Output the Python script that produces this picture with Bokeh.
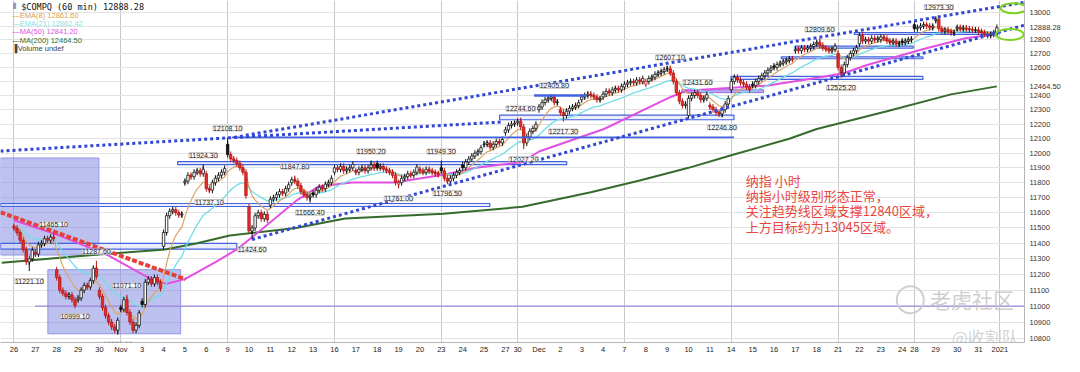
import numpy as np
import pandas as pd
from bokeh.plotting import figure
from bokeh.models import Range1d, FixedTicker, PrintfTickFormatter, Label
from bokeh.embed import file_html
from bokeh.resources import INLINE

# ---------------- data ----------------
day_labels = ["26", "27", "28", "29", "30", "Nov", "3", "4", "5", "6", "9", "10", "11", "12", "13",
              "16", "17", "18", "19", "20", "23", "24", "25", "27", "30", "Dec", "2", "3", "4", "7",
              "8", "9", "10", "11", "14", "15", "16", "17", "18", "21", "22", "23", "24", "28", "29",
              "30", "31", "2021"]
day_bar_counts = [7, 7, 7, 7, 7, 7, 7, 7, 7, 7, 7, 7, 7, 7, 7, 7, 7, 7, 7, 7, 7, 7, 7, 4, 7, 7, 7, 7,
                  7, 7, 7, 7, 7, 7, 7, 7, 7, 7, 7, 7, 7, 7, 4, 7, 7, 7, 7, 0]
week_start_days = [0, 5, 10, 15, 20, 24, 29, 34, 39, 43, 47]

day_opens = [11510, 11340, 11230, 11040, 11100, 10990, 11030, 11380, 11800, 11860,
             12060, 11640, 11650, 11800, 11730, 11870, 11880, 11930, 11790, 11890,
             11900, 11920, 12060, 12140, 12210, 12300, 12300, 12370, 12390, 12460,
             12480, 12590, 12260, 12330, 12440, 12480, 12610, 12720, 12770, 12700,
             12770, 12800, 12790, 12910, 12940, 12880, 12870]

closes = [
    11500, 11470, 11420, 11360, 11280, 11300, 11355,   # Oct 26
    11330, 11390, 11400, 11430, 11420, 11440, 11431,   # Oct 27
    11180, 11100, 11080, 11060, 11070, 11040, 11005,   # Oct 28
    11050, 11100, 11130, 11120, 11160, 11240, 11186,   # Oct 29
    11060, 10990, 10940, 10900, 10870, 10850, 10912,   # Oct 30
    10980, 11040, 10960, 10900, 10850, 10880, 10957,   # Nov 2
    11010, 11150, 11170, 11140, 11180, 11150, 11110,   # Nov 3
    11470, 11580, 11610, 11620, 11600, 11585, 11590,   # Nov 4
    11810, 11850, 11840, 11870, 11880, 11860, 11890,   # Nov 5
    11760, 11750, 11800, 11830, 11850, 11870, 11895,   # Nov 6
    11990, 11960, 11950, 11930, 11900, 11870, 11713,   # Nov 9
    11480, 11500, 11580, 11600, 11560, 11590, 11553,   # Nov 10
    11690, 11700, 11720, 11740, 11730, 11760, 11786,   # Nov 11
    11820, 11810, 11780, 11740, 11720, 11700, 11709,   # Nov 12
    11720, 11750, 11770, 11760, 11790, 11800, 11829,   # Nov 13
    11900, 11890, 11910, 11880, 11890, 11900, 11924,   # Nov 16
    11870, 11890, 11900, 11880, 11900, 11920, 11899,   # Nov 17
    11900, 11910, 11890, 11880, 11870, 11850, 11802,   # Nov 18
    11800, 11830, 11840, 11860, 11850, 11870, 11905,   # Nov 19
    11880, 11870, 11890, 11880, 11870, 11860, 11855,   # Nov 20
    11880, 11830, 11810, 11830, 11850, 11870, 11881,   # Nov 23
    11900, 11940, 11960, 11980, 12000, 12010, 12037,   # Nov 24
    12060, 12070, 12040, 12060, 12080, 12070, 12094,   # Nov 25
    12160, 12190, 12200, 12206,                        # Nov 27
    12220, 12180, 12070, 12110, 12150, 12170, 12199,   # Nov 30
    12320, 12350, 12370, 12380, 12390, 12350, 12355,   # Dec 1
    12280, 12260, 12290, 12310, 12320, 12330, 12349,   # Dec 2
    12390, 12400, 12410, 12400, 12390, 12370, 12377,   # Dec 3
    12410, 12430, 12420, 12440, 12450, 12440, 12464,   # Dec 4
    12480, 12490, 12500, 12490, 12510, 12500, 12520,   # Dec 7
    12500, 12520, 12530, 12550, 12560, 12570, 12583,   # Dec 8
    12590, 12560, 12500, 12420, 12360, 12330, 12339,   # Dec 9
    12380, 12400, 12420, 12400, 12370, 12380, 12406,   # Dec 10
    12320, 12300, 12280, 12270, 12300, 12340, 12378,   # Dec 11
    12500, 12530, 12510, 12490, 12480, 12460, 12440,   # Dec 14
    12470, 12500, 12520, 12540, 12560, 12580, 12595,   # Dec 15
    12600, 12620, 12630, 12640, 12650, 12660, 12658,   # Dec 16
    12730, 12720, 12740, 12730, 12740, 12750, 12765,   # Dec 17
    12780, 12760, 12740, 12730, 12720, 12730, 12755,   # Dec 18
    12600, 12560, 12620, 12670, 12700, 12720, 12742,   # Dec 21
    12830, 12790, 12800, 12790, 12810, 12800, 12808,   # Dec 22
    12820, 12810, 12790, 12780, 12790, 12770, 12771,   # Dec 23
    12780, 12790, 12800, 12805,                        # Dec 24
    12880, 12890, 12900, 12910, 12900, 12890, 12899,   # Dec 28
    12950, 12880, 12860, 12870, 12860, 12850, 12850,   # Dec 29
    12890, 12880, 12885, 12880, 12875, 12870, 12870,   # Dec 30
    12860, 12850, 12840, 12830, 12840, 12850, 12888.28,  # Dec 31
]

pivot_bars = [5, 13, 20, 27, 34, 37, 62, 64, 70, 78, 92, 97, 117, 126, 140, 142,
              166, 167, 177, 180, 215, 224, 232, 264, 271, 303]
pivot_values = [11221.10, 11465.10, 10999.10, 11287.60, 10822.60, 11071.10, 11924.30, 11737.10,
                12108.10, 11424.60, 11847.80, 11666.40, 11950.20, 11761.00, 11949.30, 11796.50,
                12244.60, 12027.20, 12405.80, 12217.30, 12607.10, 12431.60, 12246.80, 12809.60,
                12525.20, 12973.30]
pivot_kinds = ["L", "H", "L", "H", "L", "H", "H", "L", "H", "L", "H", "L", "H", "L", "H", "L",
               "H", "L", "H", "L", "H", "H", "L", "H", "L", "H"]

ma50_bars = [0, 15, 31, 44, 50, 56, 66, 73, 78.5, 92.4, 99.8, 110.7, 124.6, 140.7, 151.4,
             166.5, 172, 193.3, 215, 220.4, 236.5, 247, 263.3, 272, 279.5, 298, 311.7, 322]
ma50_vals = [11550, 11450, 11320, 11180, 11140, 11170, 11278, 11360, 11447, 11678, 11775,
             11801, 11801, 11853, 11900, 11939, 12011, 12166, 12388, 12434, 12457, 12470,
             12526, 12560, 12617, 12733, 12810, 12841.2]
ma200_bars = [-4, 27.8, 49.5, 60, 70.7, 92.4, 108.5, 140.7, 166.6, 189, 205, 221, 235, 254,
              263, 286, 307, 322]
ma200_vals = [11275, 11328, 11360, 11400, 11450, 11500, 11562, 11594, 11639, 11736, 11814,
              11900, 11985, 12099, 12166, 12290, 12408, 12464.5]

grid_prices = [10800, 10900, 11000, 11100, 11200, 11300, 11400, 11500, 11600, 11700, 11800,
               11900, 12000, 12100, 12200, 12300, 12400, 12500, 12600, 12700, 12800, 12900,
               13000, 13100]
axis_prices = [10700, 10800, 10900, 11000, 11100, 11200, 11300, 11400, 11500, 11600, 11700, 11800,
               11900, 12000, 12100, 12200, 12300, 12400, 12464.5, 12600, 12700, 12800,
               12888.28, 13000]
axis_tags = {12464.5: "12464.50", 12888.28: "12888.28"}

legend_texts = ["\u2014EMA(8) 12861.60", "\u2014EMA(21) 12862.42", "\u2014MA(50) 12841.20",
                "\u2014MA(200) 12464.50", "\u2590Volume undef"]
title_text = "$COMPQ (60 min) 12888.28"
note_lines = ["纳指 小时", "纳指小时级别形态正常，", "关注趋势线区域支撑12840区域，", "上方目标约为13045区域。"]

# annotation zones (bar from, bar to, top price, bottom price)
zone_x0 = [234.9, 159.1, 53.6, -4.4, -4.4, 251.4, 255.9, 275.3]
zone_x1 = [297.8, 235.9, 181.1, 155.9, 73.0, 297.8, 294.6, 322.4]
zone_top = [12535, 12262, 11942, 11661, 11400, 12676, 12753, 12852]
zone_bot = [12515, 12230, 11922, 11641, 11362, 12662, 12739, 12838]
violet_zone = [218.8, 245.6, 12440, 12420]
level_lines_x0 = [170.4, 71.4]
level_lines_x1 = [187.5, 235.9]
level_lines_price = [12400, 12108.1]
violet_level = [6.9, 331, 10999.1]
box_x0 = [-4.4, 11.1]
box_x1 = [27.8, 54.6]
box_top = [11967, 11230]
box_bot = [11324, 10828]
trend_a_bars, trend_a_prices = [-4.42, 160.1], [12014, 12215]
trend_b_bars, trend_b_prices = [72.06, 331.1], [12108.1, 13076]
trend_c_bars, trend_c_prices = [78.0, 331.1], [11424.6, 12906.9]
trend_red_bars, trend_red_prices = [-4.42, 56.2], [11603, 11169]

# ---------------- derived ----------------
assert len(closes) == sum(day_bar_counts)
n = len(closes)
bars = np.arange(n)
day_start = np.concatenate([[0], np.cumsum(day_bar_counts)[:-1]])
opens = []
k = 0
for d, cnt in enumerate(day_bar_counts):
    for j in range(cnt):
        opens.append(day_opens[d] if j == 0 else closes[k - 1])
        k += 1
opens = np.array(opens, dtype=float)
cl = np.array(closes, dtype=float)
prev = np.concatenate([[opens[0]], cl[:-1]])
RED_F, RED_L, BLK = "#e42c27", "#b81818", "#111111"
up = cl >= prev
hollow = cl >= opens
fills = ["#ffffff" if h else (BLK if u else RED_F) for u, h in zip(up, hollow)]
lines = [BLK if u else RED_L for u in up]
top = np.maximum(opens, cl)
bot = np.minimum(opens, cl)

ema8 = pd.Series(cl).ewm(span=8, adjust=False).mean().values
ema21 = pd.Series(cl).ewm(span=21, adjust=False).mean().values


def bx(px):
    # reference-picture x pixel -> bar position
    return (px - 13.7) / 3.1


def py(px):
    # reference-picture y pixel -> price (log scale)
    return 13000 * np.exp((12.3 - px) / 1809.0)


# ---------------- figure ----------------
p = figure(width=1064, height=356, x_range=Range1d(bx(0), bx(1040)),
           y_range=Range1d(py(352), py(0)), y_axis_type="log", y_axis_location="right",
           output_backend="svg", toolbar_location=None,
           min_border_left=0, min_border_top=0, min_border_right=40, min_border_bottom=12)
p.outline_line_color = None
p.background_fill_color = "#ffffff"

p.yaxis.ticker = FixedTicker(ticks=axis_prices)
p.yaxis.formatter = PrintfTickFormatter(format="%d")
p.yaxis.major_label_overrides = axis_tags
p.yaxis.major_label_text_font = "Liberation Sans"
p.yaxis.major_label_text_font_size = "7.5px"
p.yaxis.major_label_text_color = "#333333"
p.yaxis.major_tick_out = 0
p.yaxis.major_tick_in = 0
p.yaxis.minor_tick_out = 0
p.yaxis.minor_tick_in = 0
p.yaxis.major_label_standoff = 5
p.yaxis.axis_line_color = "#b5b5b5"

tick_pos = [int(s) for s in day_start]
p.xaxis.ticker = FixedTicker(ticks=tick_pos)
p.xaxis.major_label_overrides = {int(s): lab for s, lab in zip(day_start, day_labels)}
p.xaxis.major_label_text_font = "Liberation Sans"
p.xaxis.major_label_text_font_size = "7.5px"
p.xaxis.major_label_text_color = "#222222"
p.xaxis.major_tick_out = 0
p.xaxis.major_tick_in = 0
p.xaxis.minor_tick_out = 0
p.xaxis.minor_tick_in = 0
p.xaxis.major_label_standoff = 2
p.xaxis.axis_line_color = "#b5b5b5"

p.ygrid.ticker = FixedTicker(ticks=grid_prices)
p.ygrid.grid_line_color = "#e2e2e2"
p.xgrid.ticker = FixedTicker(ticks=[int(day_start[i]) for i in week_start_days])
p.xgrid.grid_line_color = "#c8c8c8"

# shaded boxes
p.quad(left=box_x0, right=box_x1, top=box_top, bottom=box_bot,
       fill_color="#7b84e0", fill_alpha=0.5, line_color="#8f96e6", line_width=1)
p.quad(left=zone_x0, right=zone_x1, top=zone_top, bottom=zone_bot,
       fill_color="#dfe3fb", fill_alpha=0.6, line_color="#4262e0", line_width=1.2)
p.quad(left=[violet_zone[0]], right=[violet_zone[1]], top=[violet_zone[2]], bottom=[violet_zone[3]],
       fill_color="#b7a4ef", fill_alpha=0.9, line_color="#8a6fe0", line_width=1)
p.segment(x0=[violet_level[0]], y0=[violet_level[2]], x1=[violet_level[1]], y1=[violet_level[2]],
          line_color="#9d85dc", line_width=1.2)

# moving averages
p.line(ma200_bars, ma200_vals, line_color="#356b2b", line_width=2)
p.line(ma50_bars, ma50_vals, line_color="#e24fe2", line_width=2)
p.line(bars, ema21, line_color="#6fdde4", line_width=1.3)
p.line(bars, ema8, line_color="#dba463", line_width=1.2)

# candles: wicks
p.rect(x=bars, y=top, width=1, height=6, width_units="screen", height_units="screen",
       fill_color=lines, line_color=None)
p.rect(x=bars, y=bot, width=1, height=6, width_units="screen", height_units="screen",
       fill_color=lines, line_color=None)
pb = np.array(pivot_bars)
pv = np.array(pivot_values)
edge = [top[b] if kd == "H" else bot[b] for b, kd in zip(pivot_bars, pivot_kinds)]
p.segment(x0=pb, y0=edge, x1=pb, y1=pv, line_color=[lines[b] for b in pivot_bars], line_width=1)
p.vbar(x=bars, width=0.8, top=top, bottom=bot, fill_color=fills, line_color=lines, line_width=0.8)

# level lines
p.segment(x0=level_lines_x0, y0=level_lines_price, x1=level_lines_x1, y1=level_lines_price,
          line_color="#4262e0", line_width=[2.5, 1.6])

# trend lines
for bx_, pr_ in [(trend_a_bars, trend_a_prices), (trend_b_bars, trend_b_prices),
                 (trend_c_bars, trend_c_prices)]:
    p.line(bx_, pr_, line_color="#3348d2", line_width=3, line_dash="3 3")
p.line(trend_red_bars, trend_red_prices, line_color="#e5413b", line_width=4, line_dash="5 2")

# green ellipses
p.ellipse(x=[bx(1029), bx(1025)], y=[py(8), py(35)], width=[26, 28], height=[10, 11],
          width_units="screen", height_units="screen", fill_alpha=0,
          line_color="#7ed321", line_width=2)

# pivot labels
for b, v, kd in zip(pivot_bars, pivot_values, pivot_kinds):
    off = 9 if kd == "H" else -10
    p.add_layout(Label(x=b, y=v, text=f"{v:.2f}", y_offset=off, text_align="center",
                       text_baseline="middle", text_font="Liberation Sans",
                       text_font_size="7px", text_color="#222222",
                       background_fill_color="#ffffff", background_fill_alpha=0.85,
                       border_line_color="#bdbdbd", border_line_width=1))

# title and legend
p.add_layout(Label(x=bx(13), y=py(6.5), text="\u2AF4", text_font="DejaVu Sans",
                   text_font_size="8px", text_color="#334488", text_baseline="middle"))
p.add_layout(Label(x=bx(21), y=py(6.5), text=title_text, text_font="DejaVu Sans Mono",
                   text_font_size="8.5px", text_color="#111111", text_baseline="middle"))
legend_colors = ["#e0a050", "#7fe3e6", "#e055e0", "#2f6e2f", "#444444"]
for i, (t, c) in enumerate(zip(legend_texts, legend_colors)):
    p.add_layout(Label(x=bx(12), y=py(15.5 + 8.4 * i), text=t, text_font="Liberation Sans",
                       text_font_size="7.5px", text_color=c, text_baseline="middle"))

# red note text
for i, t in enumerate(note_lines):
    p.add_layout(Label(x=bx(757), y=py(185 + 15.7 * i), text=t, text_font="Noto Sans CJK SC",
                       text_font_size="13px", text_color="#e8473e", text_baseline="middle"))

# watermark
p.scatter(x=[bx(924)], y=[py(308)], size=27, marker="circle", fill_alpha=0,
          line_color="#cfcfcf", line_width=2)
p.add_layout(Label(x=bx(944), y=py(307), text="老虎社区", text_font="Noto Sans CJK SC",
                   text_font_size="21px", text_color="#c6c6c6", text_alpha=0.85,
                   text_baseline="middle"))
p.add_layout(Label(x=bx(966), y=py(346), text="@收割队", text_font="Noto Sans CJK SC",
                   text_font_size="17px", text_color="#cdcdcd", text_alpha=0.85,
                   text_baseline="middle"))

open("out.html", "w").write(file_html(p, INLINE))
